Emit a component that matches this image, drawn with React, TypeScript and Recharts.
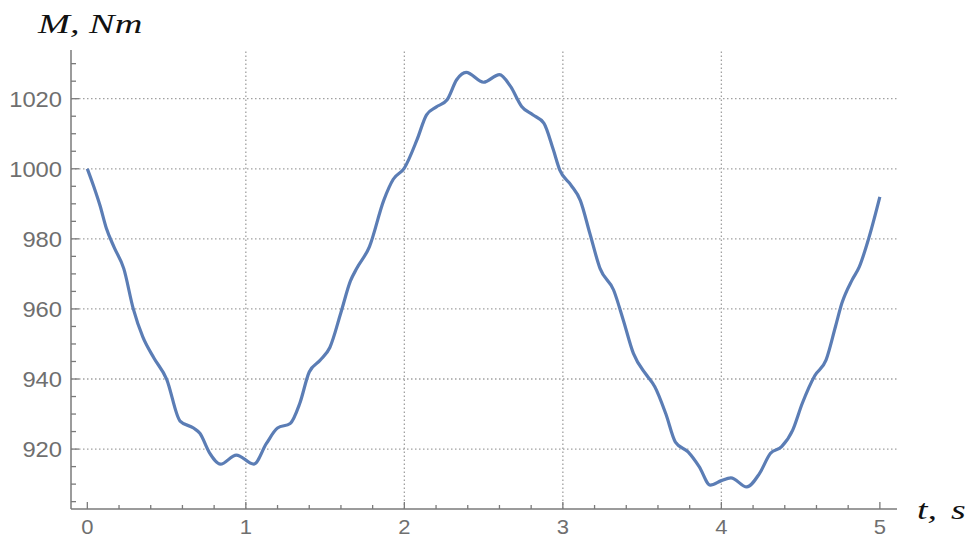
import { LineChart, Line, XAxis, YAxis, ReferenceLine } from 'recharts';

// time, s
const tValues = [
  0.0, 0.04, 0.08, 0.12, 0.17, 0.23, 0.29, 0.35, 0.42, 0.5, 0.585, 0.67, 0.71, 0.77, 0.84,
  0.94, 1.05, 1.13, 1.2, 1.28, 1.34, 1.4, 1.47, 1.53, 1.6, 1.66, 1.7, 1.78, 1.87, 1.93, 2.0,
  2.08, 2.14, 2.2, 2.27, 2.33, 2.39, 2.5, 2.6, 2.67, 2.74, 2.81, 2.88, 2.94, 2.98, 3.05, 3.11,
  3.17, 3.235, 3.32, 3.38, 3.445, 3.53, 3.58, 3.65, 3.71, 3.79, 3.86, 3.93, 4.0, 4.06, 4.16,
  4.24, 4.31, 4.38, 4.45, 4.51, 4.59, 4.66, 4.72, 4.76, 4.825, 4.87, 4.93, 5.0,
];

// torque, Nm
const mValues = [
  1000, 995, 989.5, 983, 977.5, 971.5, 960, 952, 946, 940, 928, 926, 924.5, 919, 915.7,
  918.3, 915.7, 921.6, 926, 927.3, 933, 942, 945.4, 949, 959, 968, 971.6, 977.8, 991, 997, 1000.2,
  1008.3, 1015.4, 1017.6, 1019.7, 1025.4, 1027.5, 1024.7, 1026.9, 1023.5, 1017.8, 1015.4, 1013, 1005.4, 999.7, 995.4, 991,
  981.6, 971.5, 965.4, 957, 947.3, 941, 937.8, 930, 922, 919.2, 915, 909.7, 911, 911.8, 909.2,
  913, 918.8, 920.7, 925.4, 933, 941, 945.4, 955, 961.6, 968.3, 972, 980.2, 992,
];

const xTicks = [0, 0.2, 0.4, 0.6, 0.8, 1, 1.2, 1.4, 1.6, 1.8, 2, 2.2, 2.4, 2.6, 2.8, 3, 3.2, 3.4, 3.6, 3.8, 4, 4.2, 4.4, 4.6, 4.8, 5];
const yTicks = [905, 910, 915, 920, 925, 930, 935, 940, 945, 950, 955, 960, 965, 970, 975, 980, 985, 990, 995, 1000, 1005, 1010, 1015, 1020, 1025, 1030];
const xGrid = [1, 2, 3, 4];
const yGrid = [920, 940, 960, 980, 1000, 1020];

const data = tValues.map((t, i) => ({ t, m: mValues[i] }));

const AXIS = '#7a7a7a';
const LABEL = '#6f6f6f';
const GRID = '#a0a0a0';
const LINE = '#5b7db5';

const isMajorX = (v: number) => Math.abs(v - Math.round(v)) < 1e-6;

const XTick = (props: any) => {
  const { x, y, payload } = props;
  const v = payload.value as number;
  const major = isMajorX(v);
  return (
    <g>
      <line x1={x} x2={x} y1={y} y2={y - (major ? 7 : 4)} stroke={AXIS} strokeWidth={1.3} />
      {major && (
        <text
          transform={`translate(${x},${y + 25}) scale(1.1,1)`}
          textAnchor="middle"
          fontFamily="'Liberation Sans', Arial, sans-serif"
          fontSize={20}
          fill={LABEL}
        >
          {Math.round(v)}
        </text>
      )}
    </g>
  );
};

const YTick = (props: any) => {
  const { x, y, payload } = props;
  const v = payload.value as number;
  const major = v % 20 === 0;
  return (
    <g>
      <line x1={x} x2={x + (major ? 8 : 5)} y1={y} y2={y} stroke={AXIS} strokeWidth={1.3} />
      {major && (
        <text
          transform={`translate(${x - 9},${y + 8}) scale(1.08,1)`}
          textAnchor="end"
          fontFamily="'Liberation Sans', Arial, sans-serif"
          fontSize={22}
          fill={LABEL}
        >
          {v}
        </text>
      )}
    </g>
  );
};

const serif = "'Liberation Serif', 'Times New Roman', serif";

export default function App() {
  return (
    <div style={{ position: 'absolute', left: 0, top: 0, width: 972, height: 539, background: '#fff' }}>
      <LineChart width={972} height={539} data={data} margin={{ top: 50, right: 75, left: 11, bottom: 0 }}>
        {xGrid.map((g) => (
          <ReferenceLine key={`x${g}`} x={g} stroke={GRID} strokeWidth={1.3} strokeDasharray="1.5 2.5" />
        ))}
        {yGrid.map((g) => (
          <ReferenceLine key={`y${g}`} y={g} stroke={GRID} strokeWidth={1.3} strokeDasharray="1.5 2.5" />
        ))}
        <XAxis
          dataKey="t"
          type="number"
          domain={[-0.103, 5.108]}
          allowDataOverflow
          ticks={xTicks}
          interval={0}
          height={30}
          tickSize={0}
          tickMargin={0}
          tickLine={false}
          axisLine={{ stroke: AXIS, strokeWidth: 1.5 }}
          tick={<XTick />}
        />
        <YAxis
          type="number"
          domain={[902.9, 1033.9]}
          allowDataOverflow
          ticks={yTicks}
          interval={0}
          width={60}
          tickSize={0}
          tickMargin={0}
          tickLine={false}
          axisLine={{ stroke: AXIS, strokeWidth: 1.5 }}
          tick={<YTick />}
        />
        <Line
          type="monotone"
          dataKey="m"
          stroke={LINE}
          strokeWidth={3.2}
          dot={false}
          isAnimationActive={false}
        />
      </LineChart>
      <svg
        width={972}
        height={539}
        style={{ position: 'absolute', left: 0, top: 0, pointerEvents: 'none' }}
      >
        <text transform="translate(38,33) scale(1.42,1)" fontFamily={serif} fontStyle="italic" fontSize={27} fill="#111">
          M, Nm
        </text>
        <text transform="translate(917,519) scale(1.35,1)" fontFamily={serif} fontStyle="italic" fontSize={28} fill="#111">
          t,
        </text>
        <text transform="translate(951,519) scale(1.35,1)" fontFamily={serif} fontStyle="italic" fontSize={28} fill="#111">
          s
        </text>
      </svg>
    </div>
  );
}
